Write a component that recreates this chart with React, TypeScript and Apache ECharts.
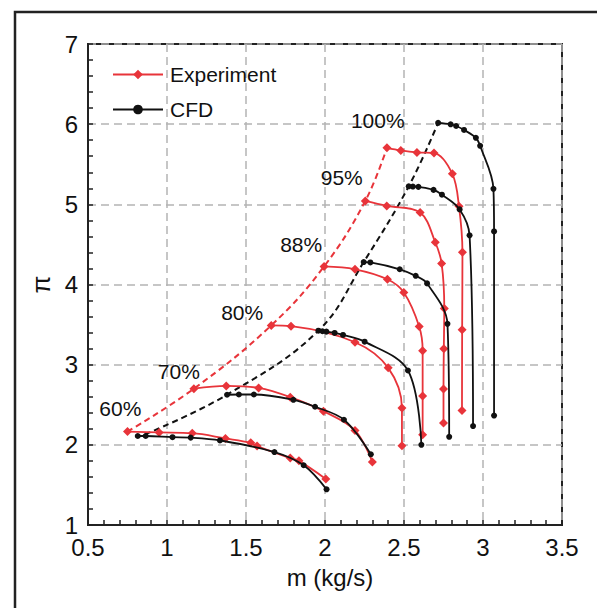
import React, { useEffect, useRef } from "react";
import * as echarts from "echarts";

// Experiment speed lines [m (kg/s), pi]
const exp60 = [[0.75,2.165],[0.95,2.155],[1.16,2.145],[1.37,2.08],[1.53,2.025],[1.57,1.985],[1.78,1.835],[1.835,1.80],[2.005,1.575]];
const exp70 = [[1.17,2.70],[1.375,2.735],[1.58,2.71],[1.78,2.595],[1.99,2.42],[2.19,2.18],[2.30,1.787]];
const exp80 = [[1.66,3.49],[1.785,3.48],[2.19,3.28],[2.40,2.96],[2.487,2.46],[2.487,1.99]];
const exp88 = [[1.994,4.225],[2.19,4.19],[2.395,4.065],[2.499,3.90],[2.596,3.475],[2.618,3.175],[2.618,2.61],[2.618,2.125]];
const exp95 = [[2.255,5.042],[2.391,4.98],[2.602,4.897],[2.698,4.527],[2.738,4.263],[2.755,3.70],[2.752,3.198],[2.75,2.697],[2.75,2.273]];
const exp100 = [[2.392,5.705],[2.48,5.672],[2.582,5.648],[2.69,5.64],[2.806,5.38],[2.848,4.975],[2.87,4.402],[2.868,3.435],[2.867,2.428]];

// CFD speed lines
const cfd60 = [[0.815,2.11],[0.865,2.11],[1.035,2.095],[1.15,2.09],[1.335,2.055],[1.68,1.91],[1.865,1.745],[2.01,1.445]];
const cfd70 = [[1.38,2.625],[1.455,2.628],[1.55,2.628],[1.80,2.562],[1.937,2.475],[2.12,2.313],[2.29,1.882]];
const cfd80 = [[1.958,3.424],[1.984,3.417],[2.009,3.412],[2.061,3.396],[2.114,3.371],[2.251,3.287],[2.525,2.927],[2.61,2.0]];
const cfd88 = [[2.245,4.28],[2.287,4.275],[2.473,4.19],[2.574,4.108],[2.646,4.014],[2.775,3.51],[2.786,2.10]];
const cfd95 = [[2.53,5.225],[2.556,5.222],[2.591,5.218],[2.687,5.18],[2.74,5.12],[2.852,4.937],[2.915,4.613],[2.937,2.234]];
const cfd100 = [[2.716,6.016],[2.795,5.998],[2.83,5.977],[2.88,5.928],[2.955,5.83],[2.982,5.73],[3.066,5.194],[3.07,4.662],[3.07,2.365]];

// Surge lines (dashed)
const surgeExp = [[0.75,2.165],[1.17,2.70],[1.66,3.49],[1.994,4.225],[2.255,5.042],[2.392,5.705]];
const surgeCfd = [[0.86,2.13],[1.38,2.625],[1.958,3.424],[2.245,4.28],[2.53,5.225],[2.716,6.016]];

// Speed labels
const speedLabels = [
  [2.334, 6.04, "100%"],
  [2.106, 5.33, "95%"],
  [1.849, 4.50, "88%"],
  [1.476, 3.645, "80%"],
  [1.075, 2.915, "70%"],
  [0.705, 2.45, "60%"],
];

const xTicks = { min: 0.5, max: 3.5, interval: 0.5 };
const yTicks = { min: 1, max: 7, interval: 1 };

const RED = "#e8343a";
const BLACK = "#111111";
const FONT = "'Liberation Sans', Arial, Helvetica, sans-serif";

export default function App() {
  const ref = useRef<HTMLDivElement>(null);
  useEffect(() => {
    if (!ref.current) return;
    const chart = echarts.init(ref.current, null, { renderer: "svg" });
    const expSeries = [exp60, exp70, exp80, exp88, exp95, exp100].map((d) => ({
      name: "Experiment",
      type: "line",
      data: d,
      smooth: 0.35,
      symbol: "diamond",
      symbolSize: 9,
      lineStyle: { color: RED, width: 1.8 },
      itemStyle: { color: RED },
      z: 3,
    }));
    const cfdSeries = [cfd60, cfd70, cfd80, cfd88, cfd95, cfd100].map((d) => ({
      name: "CFD",
      type: "line",
      data: d,
      smooth: 0.35,
      symbol: "circle",
      symbolSize: 6,
      lineStyle: { color: BLACK, width: 1.8 },
      itemStyle: { color: BLACK },
      z: 4,
    }));
    const axisCommon = {
      axisLine: { show: true, lineStyle: { color: "#222", width: 2 } },
      axisTick: { show: true, inside: true, length: 5, lineStyle: { color: "#222", width: 1.5 } },
      minorTick: { show: true, splitNumber: 5, length: 5, lineStyle: { color: "#222", width: 1.5 } },
      splitLine: { show: true, lineStyle: { type: [8, 5], color: "#b4b4b4", width: 1.5 } },
      axisLabel: { color: "#111", fontSize: 24, fontFamily: FONT, margin: 10 },
    };
    chart.setOption({
      animation: false,
      backgroundColor: "#ffffff",
      textStyle: { fontFamily: FONT },
      grid: { left: 88, right: 35, top: 44, bottom: 83, show: true, borderColor: "#222", borderWidth: 2 },
      xAxis: {
        type: "value",
        ...xTicks,
        ...axisCommon,
        name: "m (kg/s)",
        nameLocation: "middle",
        nameGap: 40,
        nameTextStyle: { color: "#111", fontFamily: FONT, fontSize: 24, padding: [0, 0, 0, 10] },
      },
      yAxis: {
        type: "value",
        ...yTicks,
        ...axisCommon,
        name: "π",
        nameLocation: "middle",
        nameGap: 31,
        nameRotate: 90,
        nameTextStyle: { color: "#111", fontFamily: FONT, fontSize: 26 },
      },
      legend: {
        data: ["Experiment", "CFD"],
        orient: "vertical",
        left: 107,
        top: 59,
        itemWidth: 50,
        itemHeight: 12,
        itemGap: 14,
        textStyle: { fontSize: 21, color: "#111", fontFamily: FONT, padding: [0, 0, 0, 2] },
      },
      series: [
        ...expSeries,
        ...cfdSeries,
        {
          name: "surgeExp",
          type: "line",
          data: surgeExp,
          smooth: 0.4,
          symbol: "none",
          lineStyle: { color: RED, width: 2, type: [6, 4] },
          z: 2,
        },
        {
          name: "surgeCfd",
          type: "line",
          data: surgeCfd,
          smooth: 0.4,
          symbol: "none",
          lineStyle: { color: BLACK, width: 2, type: [6, 4] },
          z: 2,
        },
        {
          name: "labels",
          type: "scatter",
          data: speedLabels,
          symbolSize: 1,
          itemStyle: { color: "#ffffff", opacity: 0 },
          label: {
            show: true,
            position: "inside",
            formatter: (p: any) => p.value[2],
            fontSize: 21,
            color: "#111111",
            opacity: 1,
            textBorderWidth: 0,
            fontFamily: FONT,
          },
          z: 5,
        },
      ],
      graphic: [
        {
          type: "rect",
          shape: { x: 15, y: 12, width: 700, height: 700 },
          style: { fill: "none", stroke: "#222", lineWidth: 2.5 },
          z: -1,
          silent: true,
        },
      ],
    });
    return () => chart.dispose();
  }, []);
  return (
    <div
      ref={ref}
      style={{ position: "fixed", left: 0, top: 0, width: 597, height: 608, background: "#fff" }}
    />
  );
}
